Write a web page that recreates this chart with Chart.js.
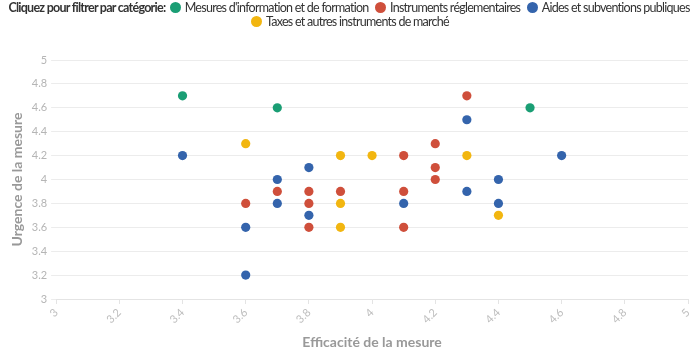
<!DOCTYPE html>
<html><head><meta charset="utf-8">
<script src="https://cdn.jsdelivr.net/npm/chart.js@4"></script>
<style>
html,body{margin:0;padding:0;background:#fff;}
#wrap{position:relative;width:700px;height:355px;}
#legend{position:absolute;left:0;top:1px;width:700px;text-align:center;font-family:Lato,"Open Sans",sans-serif;font-size:12.5px;color:#333;line-height:14px;z-index:2;}
#legend .line{white-space:nowrap;}
#legend b{font-weight:bold;}
#legend span.item{white-space:nowrap;margin:0 2px;cursor:pointer;}
#legend i{display:inline-block;width:11px;height:11px;border-radius:50%;vertical-align:-1px;margin-right:4px;}
canvas{position:absolute;left:0;top:0;}
</style></head>
<body><div id="wrap"><div id="legend"></div><canvas id="c" width="700" height="355"></canvas></div>
<script>
const seriesNames = ["Mesures d'information et de formation","Instruments réglementaires","Aides et subventions publiques","Taxes et autres instruments de marché"];
const seriesColors = ["#1a9e74","#cf4f3b","#3464ac","#f2b610"];
const infoX = [3.4,3.7,4.5];
const infoY = [4.7,4.6,4.6];
const regX = [3.6,3.7,3.8,3.8,3.8,3.9,4.1,4.1,4.1,4.2,4.2,4.2,4.3];
const regY = [3.8,3.9,3.9,3.8,3.6,3.9,4.2,3.9,3.6,4.3,4.1,4.0,4.7];
const aidX = [3.4,3.6,3.6,3.7,3.7,3.8,3.8,4.1,4.3,4.3,4.4,4.4,4.6];
const aidY = [4.2,3.6,3.2,4.0,3.8,4.1,3.7,3.8,4.5,3.9,4.0,3.8,4.2];
const taxX = [3.6,3.9,3.9,3.9,4.0,4.3,4.4];
const taxY = [4.3,4.2,3.8,3.6,4.2,4.2,3.7];
const xTitle = "Efficacité de la mesure";
const yTitle = "Urgence de la mesure";
const legendTitle = "Cliquez pour filtrer par catégorie:";

const xs=[infoX,regX,aidX,taxX], ys=[infoY,regY,aidY,taxY];
const datasets = seriesNames.map((n,i)=>({
  label:n,
  data: xs[i].map((x,j)=>({x:x,y:ys[i][j]})),
  backgroundColor: seriesColors[i],
  borderColor: seriesColors[i],
  pointRadius: 4.6,
  pointHoverRadius: 6,
  borderWidth: 0
}));
const fmt = v => String(Math.round(v*10)/10);
const font = "Lato, 'Open Sans', sans-serif";
const chart = new Chart(document.getElementById('c'),{
  type:'scatter',
  data:{datasets},
  options:{
    responsive:false,
    animation:false,
    layout:{padding:{top:60,right:12,left:5,bottom:0}},
    plugins:{legend:{display:false},tooltip:{enabled:true}},
    scales:{
      x:{min:3,max:5,
        ticks:{stepSize:0.2,callback:fmt,color:'#bdbdbd',font:{family:font,size:11},maxRotation:45,minRotation:45,padding:2},
        grid:{drawOnChartArea:false,drawTicks:true,tickLength:5,color:'#e4e4e4'},
        border:{color:'#e4e4e4'},
        title:{display:true,text:xTitle,color:'#999',font:{family:font,size:14,weight:'bold'},padding:{top:6}}
      },
      y:{min:3,max:5,
        ticks:{stepSize:0.2,callback:fmt,color:'#b5b5b5',font:{family:font,size:11},padding:4},
        grid:{color:'#ececec',tickLength:5},
        border:{display:false},
        title:{display:true,text:yTitle,color:'#999',font:{family:font,size:14,weight:'bold'},padding:{bottom:2}}
      }
    }
  }
});
const lg=document.getElementById('legend');
const l1=document.createElement('div');l1.className='line';
const l2=document.createElement('div');l2.className='line';
lg.appendChild(l1);lg.appendChild(l2);
const t=document.createElement('b');t.textContent=legendTitle+' ';l1.appendChild(t);
seriesNames.forEach((n,i)=>{
  const s=document.createElement('span');s.className='item';
  const d=document.createElement('i');d.style.background=seriesColors[i];
  s.appendChild(d);s.appendChild(document.createTextNode(n));
  s.onclick=()=>{chart.setDatasetVisibility(i,!chart.isDatasetVisible(i));s.style.opacity=chart.isDatasetVisible(i)?1:0.4;chart.update();};
  const line = i<3?l1:l2;
  line.appendChild(s);line.appendChild(document.createTextNode(' '));
});
// fit first legend line to the reference width (~683px) by tightening letter spacing
(function(){
  const probe=document.createElement('span');probe.style.whiteSpace='nowrap';
  while(l1.firstChild) probe.appendChild(l1.firstChild);
  l1.appendChild(probe);
  const w=probe.getBoundingClientRect().width;
  const chars=probe.textContent.length;
  const ls=(683-w)/chars;
  lg.style.letterSpacing=ls.toFixed(3)+'px';
})();
</script></body></html>
